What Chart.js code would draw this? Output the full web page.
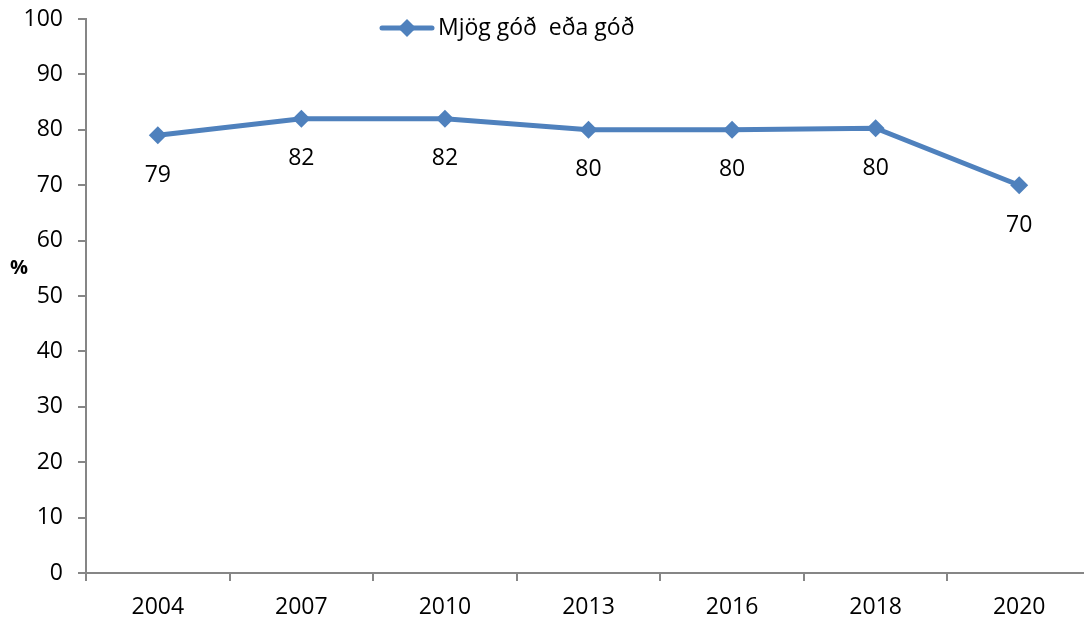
<!DOCTYPE html>
<html>
<head>
<meta charset="utf-8">
<script src="https://cdn.jsdelivr.net/npm/chart.js@4"></script>
<style>
  html, body { margin: 0; padding: 0; background: #fff; overflow: hidden; }
  #wrap { width: 1100px; height: 623px; }
</style>
</head>
<body>
<div id="wrap"><canvas id="chart" width="1100" height="623"></canvas></div>
<script>
const years = ["2004", "2007", "2010", "2013", "2016", "2018", "2020"];
const goodValues = [79, 82, 82, 80, 80, 80.3, 70];
const seriesName = "Mjög góð  eða góð";
const yTicks = [0, 10, 20, 30, 40, 50, 60, 70, 80, 90, 100];

const blue = "#4F81BD";
const axisGrey = "#868686";
const fontFamily = "'Open Sans', 'Liberation Sans', sans-serif";

// labels under each point, the "%" mark and the legend line
const extras = {
    id: "extras",
    afterDatasetsDraw(chart) {
        const ctx = chart.ctx;
        const meta = chart.getDatasetMeta(0);
        ctx.save();
        ctx.fillStyle = "#000";
        ctx.font = `23px ${fontFamily}`;
        ctx.textAlign = "center";
        ctx.textBaseline = "middle";
        meta.data.forEach((pt, i) => {
            ctx.fillText(Math.round(goodValues[i]), pt.x, pt.y + 40);
        });

        ctx.font = `bold 20px ${fontFamily}`;
        ctx.fillText("%", 19, 268);

        // legend
        ctx.strokeStyle = blue;
        ctx.lineWidth = 5;
        ctx.lineCap = "round";
        ctx.beginPath();
        ctx.moveTo(382, 28);
        ctx.lineTo(432, 28);
        ctx.stroke();
        ctx.fillStyle = blue;
        ctx.beginPath();
        ctx.moveTo(407, 19);
        ctx.lineTo(416, 28);
        ctx.lineTo(407, 37);
        ctx.lineTo(398, 28);
        ctx.closePath();
        ctx.fill();
        ctx.fillStyle = "#000";
        ctx.textAlign = "left";
        ctx.font = `23px ${fontFamily}`;
        ctx.fillText(seriesName, 438, 28);
        ctx.restore();
    }
};

new Chart(document.getElementById("chart"), {
    type: "line",
    data: {
        labels: years,
        datasets: [{
            label: seriesName,
            data: goodValues,
            borderColor: blue,
            backgroundColor: blue,
            borderWidth: 5,
            pointStyle: "rectRot",
            pointRadius: 9,
            pointHoverRadius: 9,
            pointBackgroundColor: blue,
            pointBorderWidth: 0,
            tension: 0
        }]
    },
    options: {
        responsive: false,
        animation: false,
        layout: { padding: { top: 19, right: 8, left: 0, bottom: 0 } },
        plugins: {
            legend: { display: false },
            tooltip: { enabled: false }
        },
        scales: {
            x: {
                offset: true,
                grid: {
                    offset: true,
                    drawOnChartArea: false,
                    drawTicks: true,
                    tickLength: 8,
                    color: axisGrey,
                    lineWidth: 2
                },
                border: { color: axisGrey, width: 2 },
                ticks: {
                    color: "#000",
                    font: { family: fontFamily, size: 23 },
                    padding: 13,
                    maxRotation: 0
                },
                afterFit: scale => { scale.height = 50; }
            },
            y: {
                min: 0,
                max: 100,
                afterBuildTicks: scale => { scale.ticks = yTicks.map(v => ({ value: v })); },
                grid: {
                    drawOnChartArea: false,
                    drawTicks: true,
                    tickLength: 8,
                    color: axisGrey,
                    lineWidth: 2
                },
                border: { color: axisGrey, width: 2 },
                ticks: {
                    color: "#000",
                    font: { family: fontFamily, size: 23, lineHeight: 0.5 },
                    padding: 15
                },
                afterFit: scale => {
                    scale.width = 86;
                    scale.paddingTop = 0;
                    scale.paddingBottom = 0;
                }
            }
        }
    },
    plugins: [extras]
});
</script>
</body>
</html>
